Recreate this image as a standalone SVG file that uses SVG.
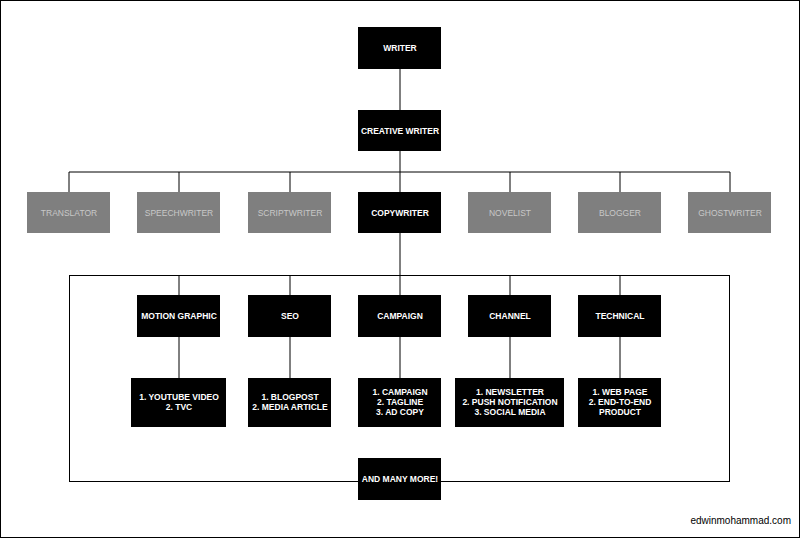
<svg xmlns="http://www.w3.org/2000/svg" width="800" height="538" viewBox="0 0 800 538">
<style>
.b{fill:#000}
.g{fill:#7f7f7f}
.t{font-family:"Liberation Sans",Arial,sans-serif;font-size:8.5px;font-weight:bold;fill:#fff;text-anchor:middle}
.tg{font-family:"Liberation Sans",Arial,sans-serif;font-size:8.5px;fill:#c8c8c8;text-anchor:middle}
.l{stroke:#000;stroke-width:1;fill:none}
</style>
<rect x="0" y="0" width="800" height="538" fill="#fff"/>
<rect x="0.5" y="0.5" width="799" height="537" fill="none" stroke="#000" stroke-width="1"/>
<g id="connectors" class="l">
<path d="M400 69V110M400 151V192M69 172H730M69 172V192M179 172V192M290 172V192M510 172V192M620 172V192M730 172V192"/>
<path d="M400 233V275"/>
<rect x="69.5" y="275.5" width="660" height="206"/>
<path d="M179 275V295M290 275V295M400 275V295M510 275V295M620 275V295"/>
<path d="M179 337V378M290 337V378M400 337V378M510 337V378M620 337V378"/>
</g>
<g id="writer"><rect class="b" x="358" y="27" width="83" height="42"/><text class="t" x="400" y="51">WRITER</text></g>
<g id="creative"><rect class="b" x="358" y="110" width="83" height="41"/><text class="t" x="400" y="134">CREATIVE WRITER</text></g>
<g id="translator"><rect class="g" x="27" y="192" width="83" height="41"/><text class="tg" x="69" y="216">TRANSLATOR</text></g>
<g id="speechwriter"><rect class="g" x="137" y="192" width="83" height="41"/><text class="tg" x="179" y="216">SPEECHWRITER</text></g>
<g id="scriptwriter"><rect class="g" x="248" y="192" width="83" height="41"/><text class="tg" x="290" y="216">SCRIPTWRITER</text></g>
<g id="copywriter"><rect class="b" x="358" y="192" width="83" height="41"/><text class="t" x="400" y="216">COPYWRITER</text></g>
<g id="novelist"><rect class="g" x="468" y="192" width="83" height="41"/><text class="tg" x="510" y="216">NOVELIST</text></g>
<g id="blogger"><rect class="g" x="578" y="192" width="83" height="41"/><text class="tg" x="620" y="216">BLOGGER</text></g>
<g id="ghostwriter"><rect class="g" x="688" y="192" width="83" height="41"/><text class="tg" x="730" y="216">GHOSTWRITER</text></g>
<g id="motion"><rect class="b" x="137" y="295" width="83" height="42"/><text class="t" x="179" y="319">MOTION GRAPHIC</text></g>
<g id="seo"><rect class="b" x="248" y="295" width="83" height="42"/><text class="t" x="290" y="319">SEO</text></g>
<g id="campaign"><rect class="b" x="358" y="295" width="83" height="42"/><text class="t" x="400" y="319">CAMPAIGN</text></g>
<g id="channel"><rect class="b" x="468" y="295" width="83" height="42"/><text class="t" x="510" y="319">CHANNEL</text></g>
<g id="technical"><rect class="b" x="578" y="295" width="83" height="42"/><text class="t" x="620" y="319">TECHNICAL</text></g>
<g id="motion-list"><rect class="b" x="131" y="378" width="95" height="49"/><text class="t" x="179" y="400">1. YOUTUBE VIDEO</text><text class="t" x="179" y="410">2. TVC</text></g>
<g id="seo-list"><rect class="b" x="248" y="378" width="83" height="49"/><text class="t" x="290" y="400">1. BLOGPOST</text><text class="t" x="290" y="410">2. MEDIA ARTICLE</text></g>
<g id="campaign-list"><rect class="b" x="358" y="378" width="83" height="49"/><text class="t" x="400" y="395">1. CAMPAIGN</text><text class="t" x="400" y="405">2. TAGLINE</text><text class="t" x="400" y="415">3. AD COPY</text></g>
<g id="channel-list"><rect class="b" x="455" y="378" width="109" height="49"/><text class="t" x="510" y="395">1. NEWSLETTER</text><text class="t" x="510" y="405">2. PUSH NOTIFICATION</text><text class="t" x="510" y="415">3. SOCIAL MEDIA</text></g>
<g id="technical-list"><rect class="b" x="578" y="378" width="83" height="49"/><text class="t" x="620" y="395">1. WEB PAGE</text><text class="t" x="620" y="405">2. END-TO-END</text><text class="t" x="620" y="415">PRODUCT</text></g>
<g id="more"><rect class="b" x="358" y="458" width="83" height="42"/><text class="t" x="400" y="482">AND MANY MORE!</text></g>
<text x="791" y="524" font-family="Liberation Sans,Arial,sans-serif" font-size="10" text-anchor="end" fill="#000">edwinmohammad.com</text>
</svg>
